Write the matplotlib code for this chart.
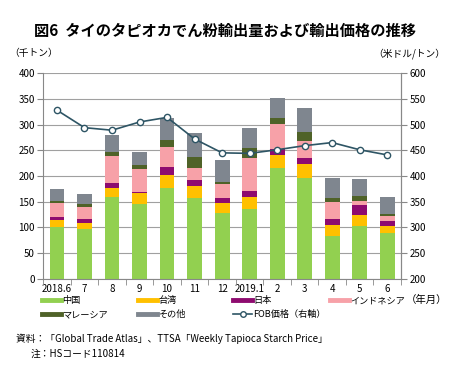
import numpy as np
import matplotlib.pyplot as plt
from matplotlib.lines import Line2D

plt.rcParams['font.family'] = ['Noto Sans CJK JP', 'DejaVu Sans']

months = ["2018.6", "7", "8", "9", "10", "11", "12", "2019.1", "2", "3", "4", "5", "6"]
china = [100, 97, 160, 145, 176, 158, 128, 136, 216, 197, 84, 103, 89]
taiwan = [14, 11, 16, 21, 26, 23, 20, 24, 25, 27, 21, 21, 13]
japan = [6, 9, 11, 3, 15, 12, 10, 10, 11, 11, 11, 19, 10]
indonesia = [27, 23, 51, 45, 40, 22, 26, 65, 49, 33, 33, 9, 10]
malaysia = [5, 6, 9, 8, 13, 22, 5, 19, 11, 17, 9, 9, 4]
others = [23, 19, 33, 25, 42, 46, 43, 40, 40, 47, 39, 34, 33]
fob = [528, 494, 489, 505, 514, 472, 445, 444, 451, 459, 465, 451, 441]

series = [("中国", china, "#92D050"), ("台湾", taiwan, "#FFC000"),
          ("日本", japan, "#8E0B6F"), ("インドネシア", indonesia, "#F7A1A8"),
          ("マレーシア", malaysia, "#4F6228"), ("その他", others, "#7F868F")]

fig = plt.figure(figsize=(4.5, 3.83), dpi=100)
ax = fig.add_axes([0.096, 0.272, 0.795, 0.537])
x = np.arange(len(months))
bottom = np.zeros(len(months))
handles = {}
for name, vals, col in series:
    ax.bar(x, vals, 0.54, bottom=bottom, color=col, zorder=2)
    bottom += np.array(vals)
    handles[name] = Line2D([], [], color=col, lw=3.5)

ax.set_ylim(0, 400)
ax.set_yticks(range(0, 401, 50))
ax.set_xlim(-0.5, len(months) - 0.5)
ax.set_xticks(x)
ax.set_xticklabels(months)
ax.set_xticks(np.arange(-0.5, len(months), 1), minor=True)
ax.tick_params(axis='x', which='major', length=0, labelsize=7, pad=4)
ax.tick_params(axis='x', which='minor', length=4, color='#888888')
ax.tick_params(axis='y', labelsize=7, length=4, color='#888888', pad=2)
ax.grid(axis='y', color='#A0A0A0', lw=0.8, zorder=0)
for s in ax.spines.values():
    s.set_color('#888888')
    s.set_linewidth(0.8)
ax.spines['top'].set_visible(False)

ax2 = ax.twinx()
ax2.plot(x, fob, color='#2E5565', lw=1.2, marker='o', ms=4.5,
         mfc='white', mec='#2E5565', mew=1, zorder=5)
ax2.set_ylim(200, 600)
ax2.set_yticks(range(200, 601, 50))
ax2.tick_params(axis='y', labelsize=7, length=4, color='#888888', pad=2)
for s in ax2.spines.values():
    s.set_visible(False)
ax2.spines['right'].set_visible(True)
ax2.spines['right'].set_color('#888888')
ax2.spines['right'].set_linewidth(0.8)

fob_name = "FOB価格（右軸）"
handles[fob_name] = Line2D([], [], color='#2E5565', lw=1.2, marker='o',
                           ms=4, mfc='white', mec='#2E5565')

# legend: four equal-width columns like the Excel original
columns = [["中国", "マレーシア"], ["台湾", "その他"], ["日本", fob_name], ["インドネシア"]]
col_x = [42, 138, 233, 330]
for names, px in zip(columns, col_x):
    leg = fig.legend([handles[k] for k in names], names, loc='upper left',
                     bbox_to_anchor=(px / 450, 0.226), frameon=False, fontsize=6.6,
                     handlelength=2.1, handletextpad=0.1, labelspacing=0.5,
                     borderaxespad=0, borderpad=0)

fig.text(0.5, 0.905, "図6  タイのタピオカでん粉輸出量および輸出価格の推移",
         ha='center', fontsize=11, fontweight='bold')
fig.text(0.02, 0.853, "（千トン）", fontsize=7)
fig.text(0.99, 0.853, "（米ドル/トン）", fontsize=7, ha='right')
fig.text(0.995, 0.21, "（年月）", fontsize=7.5, ha='right')
fig.text(0.035, 0.108, "資料：「Global Trade Atlas」、TTSA「Weekly Tapioca Starch Price」", fontsize=7)
fig.text(0.068, 0.068, "注：HSコード110814", fontsize=7)

fig.savefig("out.png", dpi=100)
